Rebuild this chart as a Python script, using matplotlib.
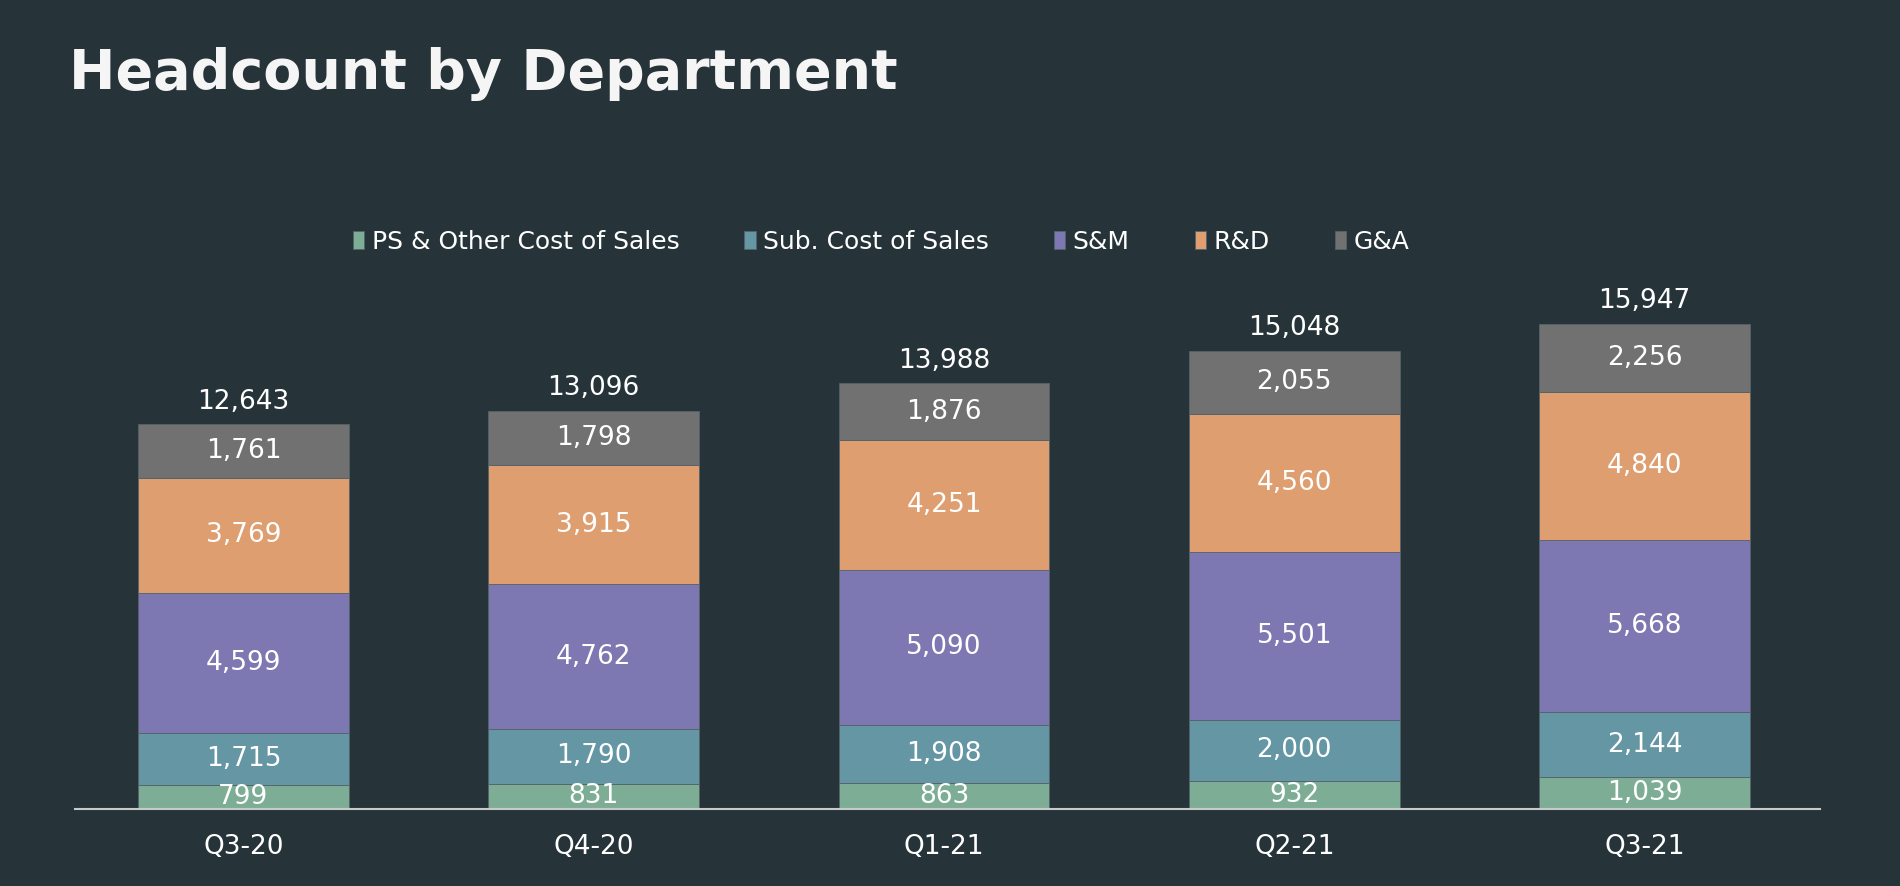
import numpy as np
import matplotlib.pyplot as plt

quarters = ['Q3-20', 'Q4-20', 'Q1-21', 'Q2-21', 'Q3-21']
ps_other = [799, 831, 863, 932, 1039]
sub_cost = [1715, 1790, 1908, 2000, 2144]
s_and_m = [4599, 4762, 5090, 5501, 5668]
r_and_d = [3769, 3915, 4251, 4560, 4840]
g_and_a = [1761, 1798, 1876, 2055, 2256]

series_names = ['PS & Other Cost of Sales', 'Sub. Cost of Sales', 'S&M', 'R&D', 'G&A']
series_vals = [ps_other, sub_cost, s_and_m, r_and_d, g_and_a]
colors = ['#7DAE95', '#6496A4', '#7E78B2', '#DE9E70', '#717171']

bg = '#263439'
plt.rcParams['font.family'] = ['DejaVu Sans']

fig = plt.figure(figsize=(19, 8.86), dpi=100, facecolor=bg)
ax = fig.add_axes([75 / 1900, 1 - 809 / 886, 1745 / 1900, (809 - 240) / 886])
ax.set_facecolor(bg)

x = np.arange(len(quarters))
bottom = np.zeros(len(quarters))
handles = []
for name, vals, col in zip(series_names, series_vals, colors):
    vals = np.array(vals)
    bars = ax.bar(x, vals, 0.602, bottom=bottom, color=col, edgecolor='#55626a',
                  linewidth=0.6, label=name)
    handles.append(bars)
    for xi, b, v in zip(x, bottom, vals):
        ax.text(xi, b + v / 2, f'{v:,}', ha='center', va='center',
                color='white', fontsize=19)
    bottom += vals

totals = bottom
for xi, t in zip(x, totals):
    ax.annotate(f'{int(t):,}', (xi, t), xytext=(0, 7), textcoords='offset points',
                ha='center', va='bottom', color='white', fontsize=19)

ax.set_xlim(-0.481, 4.501)
ax.set_ylim(0, 18700)
ax.set_xticks(x)
ax.set_xticklabels(quarters, color='white', fontsize=19)
ax.tick_params(axis='x', length=0, pad=18)
ax.set_yticks([])
for s in ['top', 'right', 'left']:
    ax.spines[s].set_visible(False)
ax.spines['bottom'].set_color('#C5CACA')
ax.spines['bottom'].set_linewidth(1.5)

fig.legend(handles=handles, labels=series_names, loc='center', ncol=5,
           bbox_to_anchor=(881 / 1900, 1 - 242 / 886), frameon=False,
           fontsize=18, labelcolor='white', handlelength=0.45, handleheight=0.75,
           handletextpad=0.3, columnspacing=2.6)

fig.text(69 / 1900, 1 - 74 / 886, 'Headcount by Department', color='#F5F5F5',
         fontsize=40, fontweight='bold', va='center', ha='left')

fig.savefig('out.png', dpi=100, facecolor=bg)
